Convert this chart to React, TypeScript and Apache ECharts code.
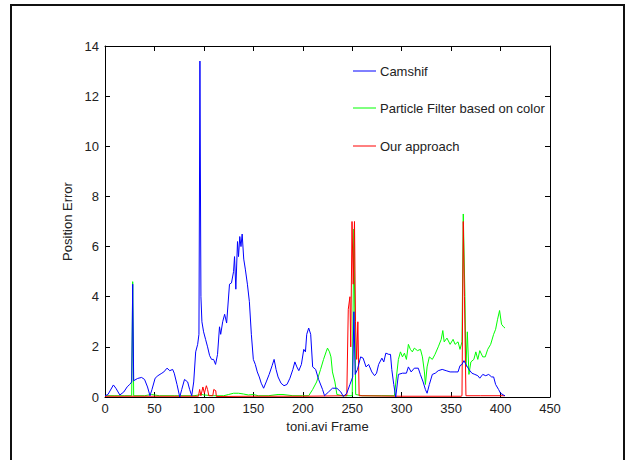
import React, { useEffect, useRef } from "react";
import * as echarts from "echarts";

const xTicks = [0, 50, 100, 150, 200, 250, 300, 350, 400, 450];
const yTicks = [0, 2, 4, 6, 8, 10, 12, 14];
const seriesNames = ["Camshif", "Particle Filter based on color", "Our approach"];

const camFrames = [0, 3, 8.5, 11, 15, 19, 22.5, 25, 27, 28, 29, 33, 37, 40, 43, 45.5, 47.5, 50.7, 53.5, 57.5, 59.5, 62.7, 65.5, 68.4, 70, 72.8, 75.6, 77.6, 80.4, 83.6, 85.6, 87.7, 89.7, 91.7, 93.7, 95, 96, 97, 98, 99.7, 101.7, 103.7, 105.8, 107.8, 109.8, 111.8, 113.8, 115.8, 117, 119, 121, 123, 125.9, 127.9, 130, 131, 132.3, 134, 135, 136.3, 137.5, 138.7, 140.3, 141.9, 144, 146, 148, 150, 152, 154, 156, 158, 160.4, 163, 166, 169, 171, 173, 175, 178, 181, 184, 187, 190, 192, 194, 196, 198.6, 201, 202.7, 204, 206, 208, 210, 213, 216, 220, 222, 226, 230, 234.5, 238.5, 241, 244.5, 247.7, 250.5, 251.7, 253, 255.3, 258.5, 261, 264, 266.6, 269.8, 272.6, 274.6, 276.7, 280, 281.9, 284, 287, 288.7, 290, 292, 294, 296.7, 300.8, 304.8, 306.8, 309.6, 312.8, 316.8, 318.9, 321.7, 324, 325.7, 328, 331, 334, 337, 341, 345, 349, 353, 357, 359, 361, 363, 365, 368, 371, 374, 377, 379, 382, 385, 388, 391, 393, 395, 398, 400, 403, 404.5];
const camValues = [0.05, 0.1, 0.48, 0.35, 0.08, 0.2, 0.41, 0.5, 0.6, 4.5, 0.65, 0.74, 0.78, 0.7, 0.4, 0.05, 0.3, 0.75, 0.85, 0.95, 1.0, 1.15, 1.05, 1.1, 0.95, 0.5, 0.0, 0.3, 0.7, 0.6, 0.3, 0.05, 0.6, 1.8, 2.1, 2.5, 13.4, 4.0, 3.0, 2.6, 2.3, 2.0, 1.65, 1.5, 1.5, 1.3, 1.7, 2.8, 2.5, 3.0, 3.3, 2.95, 4.5, 4.55, 5.0, 5.6, 4.3, 6.2, 5.6, 6.4, 6.0, 6.5, 5.5, 5.1, 4.5, 3.8, 2.5, 1.5, 1.3, 1.0, 0.8, 0.55, 0.35, 0.6, 0.9, 1.25, 1.5, 1.1, 0.8, 0.55, 0.45, 0.5, 0.75, 1.1, 1.4, 1.2, 1.05, 1.3, 1.9, 1.8, 2.5, 2.75, 2.5, 1.2, 1.1, 0.7, 0.3, 0.05, 0.2, 0.35, 0.35, 0.2, 0.02, 0.15, 0.5, 0.8, 3.4, 0.9, 1.1, 1.6, 1.55, 1.2, 1.3, 1.0, 0.85, 0.95, 1.3, 1.55, 1.4, 1.75, 1.7, 1.7, 1.1, 0.5, 0.0, 0.9, 0.95, 0.95, 1.2, 1.0, 1.15, 1.15, 0.9, 0.6, 0.3, 0.15, 0.5, 0.9, 0.95, 1.05, 1.1, 1.05, 1.0, 1.0, 1.0, 1.25, 1.3, 1.45, 1.3, 1.1, 0.95, 0.9, 0.85, 0.75, 0.9, 0.85, 0.9, 0.8, 0.8, 0.5, 0.3, 0.15, 0.08, 0.05];

const pfFrames = [0, 10, 20, 27, 28, 29, 40, 47, 55, 70, 90, 98, 100, 110, 120, 125, 130, 135, 140, 145, 150, 155, 165, 175, 180, 190, 200, 206, 210, 214, 218, 221, 223.6, 225, 227, 228.5, 230, 232.5, 234.5, 240, 250, 251.7, 253.5, 260, 270, 280, 292.7, 294.7, 296.7, 298.8, 300.8, 302.8, 304.8, 306.8, 308.8, 310.8, 312.8, 316, 319, 321, 323, 324, 325.7, 328, 331, 333.7, 337, 340, 341.6, 343, 345.8, 349, 352, 354, 357, 359, 361, 362.3, 364, 365, 366.4, 368, 370, 373, 375, 377, 379, 382, 384.5, 387, 390, 393, 395, 397, 399, 401, 403, 404.5];
const pfValues = [0.05, 0.05, 0.05, 0.05, 4.6, 0.05, 0.05, 0.1, 0.05, 0.05, 0.05, 0.1, 0.08, 0.05, 0.05, 0.1, 0.15, 0.15, 0.12, 0.08, 0.1, 0.05, 0.05, 0.1, 0.1, 0.05, 0.05, 0.05, 0.3, 0.6, 1.1, 1.5, 1.8, 1.95, 1.8, 1.6, 1.0, 0.6, 0.1, 0.05, 0.05, 6.7, 0.1, 0.05, 0.05, 0.05, 0.05, 0.8, 1.5, 1.8, 1.6, 1.75, 1.5, 2.1, 1.9, 1.8, 1.95, 1.85, 1.9, 1.6, 1.0, 0.5, 1.2, 1.6, 1.5, 1.7, 2.0, 2.3, 2.65, 2.2, 2.35, 2.1, 2.3, 2.1, 2.2, 1.9, 2.2, 7.3, 4.0, 1.2, 2.6, 0.9, 1.4, 1.5, 1.8, 1.5, 1.85, 1.6, 1.6, 1.9, 2.1, 2.5, 2.7, 3.1, 3.45, 2.9, 2.8, 2.75];

const oaFrames = [0, 50, 94.5, 95.7, 97, 99, 100.5, 102.5, 103.7, 105, 109, 110, 112, 112.6, 150, 200, 244.5, 246, 247.7, 248.5, 249.8, 251, 252.3, 253.3, 254.5, 255.7, 257, 300, 360, 361, 362.3, 363.5, 365, 380, 404.5];
const oaValues = [0.03, 0.03, 0.03, 0.3, 0.05, 0.4, 0.15, 0.45, 0.3, 0.05, 0.05, 0.3, 0.25, 0.02, 0.03, 0.03, 0.05, 3.5, 4.0, 2.0, 7.0, 4.5, 7.0, 3.0, 1.5, 3.0, 0.05, 0.03, 0.03, 0.05, 7.0, 4.0, 0.05, 0.05, 0.05];

const pairs = (f: number[], v: number[]) => f.map((x, i) => [x, v[i]]);

const FONT = "'Liberation Sans', Arial, Helvetica, sans-serif";
const TXT = "#222";
const FS = 13;

export default function App() {
  const ref = useRef<HTMLDivElement>(null);
  useEffect(() => {
    if (!ref.current) return;
    const chart = echarts.init(ref.current, undefined, { renderer: "svg" });
    const legendColors = ["#0000ff", "#00ff00", "#ff0000"];
    const legendY = [71, 108, 146];
    const legendGraphics: any[] = [];
    seriesNames.forEach((n, i) => {
      legendGraphics.push({
        type: "line",
        shape: { x1: 353, y1: legendY[i], x2: 376, y2: legendY[i] },
        style: { stroke: legendColors[i], lineWidth: 1 },
        z: 10,
      });
      legendGraphics.push({
        type: "text",
        x: 380,
        y: legendY[i],
        style: { text: n, fill: TXT, font: `${FS}px ${FONT}`, textVerticalAlign: "middle" },
        z: 10,
      });
    });
    const axisCommon = {
      type: "value" as const,
      axisLine: { show: true, onZero: false, lineStyle: { color: "#000", width: 1 } },
      axisTick: { show: true, inside: true, length: 5, lineStyle: { color: "#000" } },
      splitLine: { show: false },
    };
    chart.setOption({
      animation: false,
      backgroundColor: "#fff",
      grid: { left: 105, right: 75, top: 46, bottom: 63 },
      xAxis: [
        {
          ...axisCommon,
          min: xTicks[0],
          max: xTicks[xTicks.length - 1],
          interval: 50,
          position: "bottom",
          name: "toni.avi Frame",
          nameLocation: "middle",
          nameGap: 22,
          nameTextStyle: { fontSize: FS, color: TXT, fontFamily: FONT },
          axisLabel: { fontSize: FS, color: TXT, fontFamily: FONT, margin: 5 },
        },
        {
          ...axisCommon,
          min: xTicks[0],
          max: xTicks[xTicks.length - 1],
          interval: 50,
          position: "top",
          axisLabel: { show: false },
        },
      ],
      yAxis: [
        {
          ...axisCommon,
          min: yTicks[0],
          max: yTicks[yTicks.length - 1],
          interval: 2,
          position: "left",
          name: "Position Error",
          nameLocation: "middle",
          nameGap: 28,
          nameTextStyle: { fontSize: FS, color: TXT, fontFamily: FONT },
          axisLabel: { fontSize: FS, color: TXT, fontFamily: FONT, margin: 6 },
        },
        {
          ...axisCommon,
          min: yTicks[0],
          max: yTicks[yTicks.length - 1],
          interval: 2,
          position: "right",
          axisLabel: { show: false },
        },
      ],
      series: [
        {
          name: seriesNames[1],
          type: "line",
          data: pairs(pfFrames, pfValues),
          showSymbol: false,
          lineStyle: { color: "#00ff00", width: 1 },
          z: 2,
        },
        {
          name: seriesNames[2],
          type: "line",
          data: pairs(oaFrames, oaValues),
          showSymbol: false,
          lineStyle: { color: "#ff0000", width: 1 },
          z: 3,
        },
        {
          name: seriesNames[0],
          type: "line",
          data: pairs(camFrames, camValues),
          showSymbol: false,
          lineStyle: { color: "#0000ff", width: 1 },
          z: 4,
        },
      ],
      graphic: [
        {
          type: "rect",
          shape: { x: 11, y: 5, width: 613, height: 480 },
          style: { fill: "none", stroke: "#111", lineWidth: 2 },
          silent: true,
        },
        ...legendGraphics,
      ],
    });
    return () => chart.dispose();
  }, []);
  return (
    <div
      ref={ref}
      style={{ position: "fixed", left: 0, top: 0, width: 625, height: 460, background: "#fff" }}
    />
  );
}
